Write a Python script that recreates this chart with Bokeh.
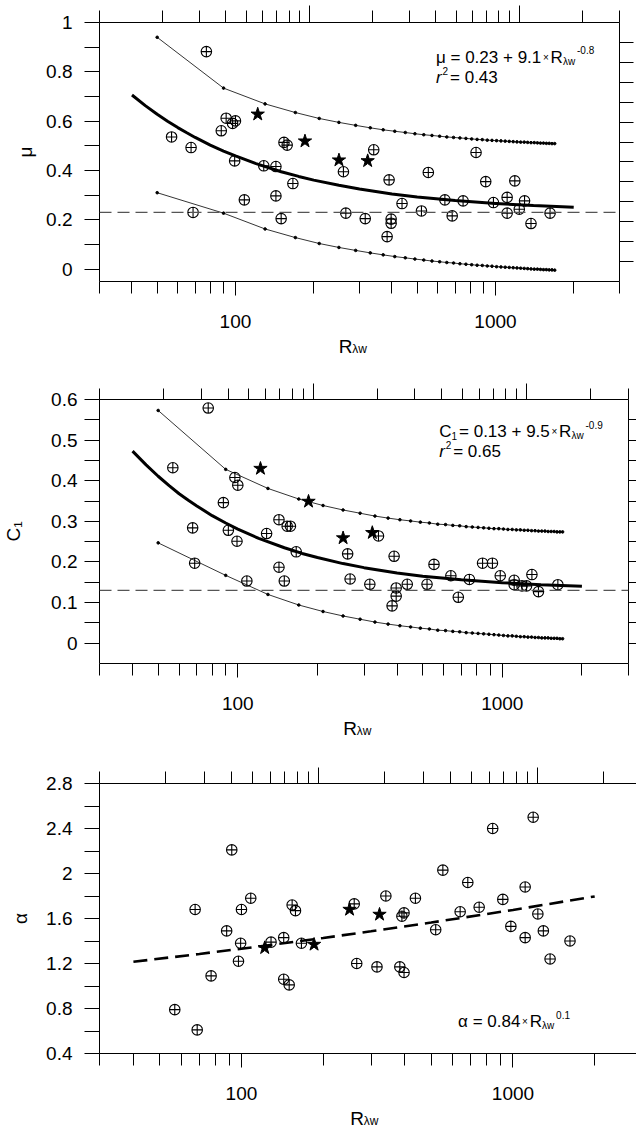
from bokeh.plotting import figure
from bokeh.layouts import column
from bokeh.models import (Range1d, LogScale, LogAxis, LinearAxis, FixedTicker, Label,
                          Span, Title)
from bokeh.embed import file_html
from bokeh.resources import INLINE

FONT = "Liberation Sans"

# Taylor-scale Reynolds number of each run and the fitted parameters
r_lw = [56.8, 67.5, 68.7, 77.3, 88.2, 92.1, 97.5, 100.0, 99.3, 108.2,
        128.5, 143.1, 143.1, 149.9, 153.7, 158.1, 166.3, 260.2, 265.8, 315.6,
        340.3, 383.1, 389.9, 397.0, 397.0, 437.2, 519.3, 551.8, 639.0, 681.8,
        750.8, 842.1, 917.6, 982.3, 1109.0, 1109.0, 1187.0, 1235.0, 1294.0, 1370.0,
        1622.0]
mu = [0.536, 0.493, 0.230, 0.882, 0.561, 0.612, 0.591, 0.601, 0.439, 0.281,
      0.419, 0.416, 0.297, 0.205, 0.514, 0.503, 0.347, 0.395, 0.227, 0.205,
      0.484, 0.132, 0.362, 0.203, 0.186, 0.266, 0.236, 0.392, 0.281, 0.216,
      0.277, 0.473, 0.355, 0.270, 0.291, 0.227, 0.358, 0.243, 0.277, 0.185,
      0.227]
c1 = [0.432, 0.284, 0.197, 0.579, 0.346, 0.278, 0.408, 0.389, 0.251, 0.153,
      0.270, 0.304, 0.187, 0.153, 0.288, 0.288, 0.225, 0.220, 0.158, 0.145,
      0.264, 0.092, 0.214, 0.136, 0.116, 0.145, 0.145, 0.194, 0.166, 0.113,
      0.157, 0.197, 0.197, 0.166, 0.155, 0.144, 0.141, 0.141, 0.169, 0.127,
      0.144]
alpha = [0.79, 1.68, 0.61, 1.09, 1.49, 2.21, 1.22, 1.68, 1.38, 1.78,
         1.39, 1.43, 1.06, 1.01, 1.72, 1.67, 1.38, 1.73, 1.20, 1.17,
         1.80, 1.17, 1.62, 1.65, 1.12, 1.78, 1.50, 2.03, 1.66, 1.92,
         1.70, 2.40, 1.77, 1.53, 1.88, 1.43, 2.50, 1.64, 1.49, 1.24,
         1.40]

# the four starred runs
star_r = [121.8, 185.1, 250.1, 322.5]
star_mu = [0.628, 0.519, 0.442, 0.439]
star_c1 = [0.430, 0.349, 0.259, 0.272]
star_alpha = [1.339, 1.369, 1.680, 1.636]

# fitted curves
fit_r = [40, 45, 50, 55, 60, 65, 70, 80, 90, 100, 120, 150, 175, 200, 250,
         300, 400, 500, 700, 1000, 1400, 2000]
fit_mu = [0.706, 0.663, 0.628, 0.599, 0.574, 0.553, 0.534, 0.503, 0.479, 0.459,
          0.428, 0.395, 0.376, 0.361, 0.340, 0.325, 0.305, 0.293, 0.278, 0.266,
          0.258, 0.251]
fit_c1 = [0.473, 0.439, 0.411, 0.388, 0.368, 0.352, 0.338, 0.314, 0.296, 0.281,
          0.258, 0.235, 0.221, 0.211, 0.196, 0.186, 0.173, 0.165, 0.156, 0.149,
          0.144, 0.140]
fit_alpha_r = [40, 70, 100, 200, 300, 500, 1000, 2000]
fit_alpha = [1.215, 1.285, 1.331, 1.427, 1.486, 1.564, 1.676, 1.796]

# prediction bands (dotted thin curves)
band_r = [50, 90, 130, 170, 210, 250, 290, 330, 370, 410,
          450, 490, 530, 570, 610, 650, 690, 730, 770, 810,
          850, 890, 930, 970, 1010, 1050, 1090, 1130, 1170, 1210,
          1250, 1290, 1330, 1370, 1410, 1450, 1490, 1530, 1570, 1610,
          1650, 1690]
mu_hi = [0.940, 0.734, 0.670, 0.635, 0.611, 0.595, 0.583, 0.573, 0.565, 0.559,
         0.554, 0.549, 0.545, 0.542, 0.539, 0.536, 0.534, 0.532, 0.530, 0.528,
         0.526, 0.525, 0.523, 0.522, 0.521, 0.520, 0.519, 0.518, 0.517, 0.516,
         0.515, 0.515, 0.514, 0.513, 0.513, 0.512, 0.511, 0.511, 0.510, 0.510,
         0.509, 0.509]
mu_lo = [0.310, 0.227, 0.163, 0.128, 0.104, 0.088, 0.076, 0.066, 0.058, 0.051,
         0.046, 0.041, 0.037, 0.033, 0.030, 0.027, 0.025, 0.022, 0.020, 0.018,
         0.016, 0.015, 0.013, 0.012, 0.010, 0.009, 0.008, 0.007, 0.006, 0.005,
         0.004, 0.003, 0.002, 0.001, 0.000, 0.000, -0.001, -0.002, -0.002, -0.003,
         -0.003, -0.004]
c1_hi = [0.573, 0.428, 0.381, 0.355, 0.339, 0.328, 0.320, 0.313, 0.308, 0.304,
         0.301, 0.298, 0.296, 0.293, 0.292, 0.290, 0.289, 0.287, 0.286, 0.285,
         0.284, 0.283, 0.282, 0.282, 0.281, 0.280, 0.280, 0.279, 0.279, 0.278,
         0.278, 0.277, 0.277, 0.276, 0.276, 0.276, 0.275, 0.275, 0.275, 0.274,
         0.274, 0.274]
c1_lo = [0.247, 0.167, 0.120, 0.094, 0.078, 0.067, 0.059, 0.052, 0.047, 0.043,
         0.040, 0.037, 0.035, 0.032, 0.031, 0.029, 0.028, 0.026, 0.025, 0.024,
         0.023, 0.022, 0.021, 0.020, 0.019, 0.018, 0.018, 0.017, 0.016, 0.016,
         0.015, 0.015, 0.014, 0.014, 0.013, 0.013, 0.013, 0.012, 0.012, 0.012,
         0.011, 0.011]

mu_inf = 0.23
c1_inf = 0.13

# ticks
x_ticks = [100, 1000]
x_labels = ["100", "1000"]
x_minor = [30, 40, 50, 60, 70, 80, 90, 200, 300, 400, 500, 600, 700, 800, 900,
           2000, 3000]
top_ticks = [100, 1000]
top_minor = [10, 20, 30, 40, 50, 60, 70, 80, 90, 200, 300, 400, 500, 600, 700,
             800, 900, 2000, 3000]
right_ticks = [1, 2, 3, 4, 5, 6, 7, 8, 9, 10, 11, 12]

mu_ticks = [0, 0.2, 0.4, 0.6, 0.8, 1]
mu_labels = ["0", "0.2", "0.4", "0.6", "0.8", "1"]
mu_minor = [0.1, 0.3, 0.5, 0.7, 0.9]
c1_ticks = [0, 0.1, 0.2, 0.3, 0.4, 0.5, 0.6]
c1_labels = ["0", "0.1", "0.2", "0.3", "0.4", "0.5", "0.6"]
c1_minor = [0.05, 0.15, 0.25, 0.35, 0.45, 0.55]
alpha_ticks = [0.4, 0.8, 1.2, 1.6, 2, 2.4, 2.8]
alpha_labels = ["0.4", "0.8", "1.2", "1.6", "2", "2.4", "2.8"]
alpha_minor = [0.6, 1.0, 1.4, 1.8, 2.2, 2.6]

# Liberation Sans advance widths (1/1000 em), to chain sub/superscript pieces
ADVANCE = {" ": 278, ".": 278, "=": 584, "+": 584, "-": 333, "×": 584,
           "R": 722, "C": 722, "r": 333, "w": 722, "λ": 500, "μ": 576, "α": 578}


def text_width(s, size):
    return sum(ADVANCE.get(ch, 556) for ch in s) * size / 1000.0


def put(p, text, x, y, size, **kw):
    # x, y in px from the top-left corner of the frame, y pointing down
    p.add_layout(Label(x=x, y=p.frame_height - y, x_units="screen", y_units="screen",
                       text=text, text_font=FONT, text_font_size="%gpx" % size,
                       text_color="black", **kw))


def chain(p, x, y, parts):
    for text, size, rise, gap, style in parts:
        put(p, text, x, y - rise, size, text_baseline="alphabetic",
            text_font_style=style)
        x += text_width(text, size) + gap


def make_panel(fw, fh, yr, yticks, ylabels, yminor, ytitle, border, top_len,
               right_len, ystand, ytitle_stand):
    left, right, top, bottom = border
    p = figure(frame_width=fw, frame_height=fh, x_axis_type="log",
               x_range=Range1d(30, 3000), y_range=Range1d(*yr),
               min_border_left=left, min_border_right=right,
               min_border_top=top, min_border_bottom=bottom,
               output_backend="svg", toolbar_location=None)
    p.grid.visible = False
    p.outline_line_color = None
    p.border_fill_color = "white"

    p.extra_x_ranges = {"top": Range1d(10, 3000)}
    p.extra_x_scales = {"top": LogScale()}
    p.extra_y_ranges = {"grid": Range1d(0, 13)}

    xa = p.xaxis[0]
    xa.ticker = FixedTicker(ticks=x_ticks, minor_ticks=x_minor)
    xa.major_label_overrides = dict(zip(x_ticks, x_labels))
    xa.major_tick_in = 0
    xa.minor_tick_in = 0
    xa.major_tick_out = 14
    xa.minor_tick_out = 12
    xa.major_label_standoff = 19
    xa.major_label_text_font = FONT
    xa.major_label_text_font_size = "19px"
    xa.major_label_text_color = "black"
    # subscript of the x title; the "R" itself is a Title pulled up beside it
    xa.axis_label = "λw"
    xa.axis_label_text_font = FONT
    xa.axis_label_text_font_size = "12px"
    xa.axis_label_text_font_style = "normal"
    xa.axis_label_text_color = "black"
    xa.axis_label_standoff = 11

    ya = p.yaxis[0]
    ya.ticker = FixedTicker(ticks=yticks, minor_ticks=yminor)
    ya.major_label_overrides = dict(zip(yticks, ylabels))
    ya.major_tick_in = 0
    ya.minor_tick_in = 0
    ya.major_tick_out = 15
    ya.minor_tick_out = 15
    ya.major_label_standoff = ystand
    ya.major_label_text_font = FONT
    ya.major_label_text_font_size = "19px"
    ya.major_label_text_color = "black"
    ya.axis_label = ytitle
    ya.axis_label_text_font = FONT
    ya.axis_label_text_font_size = "19px"
    ya.axis_label_text_font_style = "normal"
    ya.axis_label_text_color = "black"
    ya.axis_label_standoff = ytitle_stand

    top_axis = LogAxis(x_range_name="top",
                       ticker=FixedTicker(ticks=top_ticks, minor_ticks=top_minor),
                       major_tick_in=0, minor_tick_in=0,
                       major_tick_out=top_len[0], minor_tick_out=top_len[1],
                       major_label_standoff=0, major_label_text_font_size="0px",
                       major_label_overrides={t: "" for t in top_ticks})
    p.add_layout(top_axis, "above")

    right_axis = LinearAxis(y_range_name="grid",
                            ticker=FixedTicker(ticks=right_ticks, minor_ticks=[]),
                            major_tick_in=0, minor_tick_in=0,
                            major_tick_out=right_len, minor_tick_out=0,
                            major_label_standoff=0, major_label_text_font_size="0px",
                            major_label_overrides={t: "" for t in right_ticks})
    p.add_layout(right_axis, "right")

    for ax in (xa, ya, top_axis, right_axis):
        ax.axis_line_color = "black"
        ax.major_tick_line_color = "black"
        ax.minor_tick_line_color = "black"

    p.add_layout(Title(text="R", align="left", vertical_align="top",
                       offset=fw / 2.0 - 20.7, standoff=-45,
                       text_font=FONT, text_font_size="19px",
                       text_font_style="normal", text_color="black"), "below")
    return p


def scatter_points(p, y, ys):
    p.scatter(r_lw, y, marker="circle_cross", size=10.5, line_color="black",
              line_width=1.1, fill_alpha=0)
    p.scatter(star_r, ys, marker="star", size=14, color="black")


def band(p, y):
    p.line(band_r, y, line_color="black", line_width=0.8)
    p.scatter(band_r, y, marker="circle", size=2.6, color="black")


# ---- panel 1: mu ----
p1 = make_panel(520, 259, (-0.05, 1), mu_ticks, mu_labels, mu_minor, "μ",
                (98, 18, 22, 102), (17, 12), 14, 12, 7)
p1.add_layout(Span(location=mu_inf, dimension="width", line_color="#555555",
                   line_width=1.2, line_dash="12 6"))
band(p1, mu_hi)
band(p1, mu_lo)
p1.line(fit_r, fit_mu, line_color="black", line_width=3)
scatter_points(p1, mu, star_mu)
chain(p1, 336.5, 35, [("μ = 0.23 + 9.1", 17, 0, 1.7, "normal"),
                      ("×", 10, 0, 1.7, "normal"),
                      ("R", 17, 0, 0.2, "normal"),
                      ("λw", 10, -4, 1.8, "normal"),
                      ("-0.8", 10, 7.4, 0, "normal")])
chain(p1, 336.5, 55, [("r", 17, 0, 0.8, "italic"),
                      ("2", 10, 6.5, 2, "normal"),
                      ("= 0.43", 17, 0, 0, "normal")])

# ---- panel 2: C1 ----
p2 = make_panel(529, 264, (-0.05, 0.6), c1_ticks, c1_labels, c1_minor, "C₁",
                (94, 13, 16, 104), (16, 11), 12, 7, 24)
p2.add_layout(Span(location=c1_inf, dimension="width", line_color="#555555",
                   line_width=1.2, line_dash="12 6"))
band(p2, c1_hi)
band(p2, c1_lo)
p2.line(fit_r, fit_c1, line_color="black", line_width=3)
scatter_points(p2, c1, star_c1)
chain(p2, 339.7, 32.4, [("C", 17, 0, 0, "normal"),
                        ("1", 10, -4, 2, "normal"),
                        ("= 0.13 + 9.5", 17, 0, 1.7, "normal"),
                        ("×", 10, 0, 1.7, "normal"),
                        ("R", 17, 0, 0.2, "normal"),
                        ("λw", 10, -4, 1.8, "normal"),
                        ("-0.9", 10, 7.4, 0, "normal")])
chain(p2, 339.7, 52.4, [("r", 17, 0, 0.8, "italic"),
                        ("2", 10, 6.5, 2, "normal"),
                        ("= 0.65", 17, 0, 0, "normal")])

# ---- panel 3: alpha ----
p3 = make_panel(543, 270, (0.4, 2.8), alpha_ticks, alpha_labels, alpha_minor, "α",
                (87, 6, 16, 77), (16, 12), 6, 12, 12)
p3.line(fit_alpha_r, fit_alpha, line_color="black", line_width=2.6, line_dash="14 7")
scatter_points(p3, alpha, star_alpha)
chain(p3, 358.6, 238.4, [("α = 0.84", 17, 0, 1.7, "normal"),
                         ("×", 10, 0, 1.7, "normal"),
                         ("R", 17, 0, 0.2, "normal"),
                         ("λw", 10, -4, 1.8, "normal"),
                         ("0.1", 10, 7.4, 0, "normal")])

layout = column(p1, p2, p3)
open("out.html", "w").write(file_html(layout, INLINE))
